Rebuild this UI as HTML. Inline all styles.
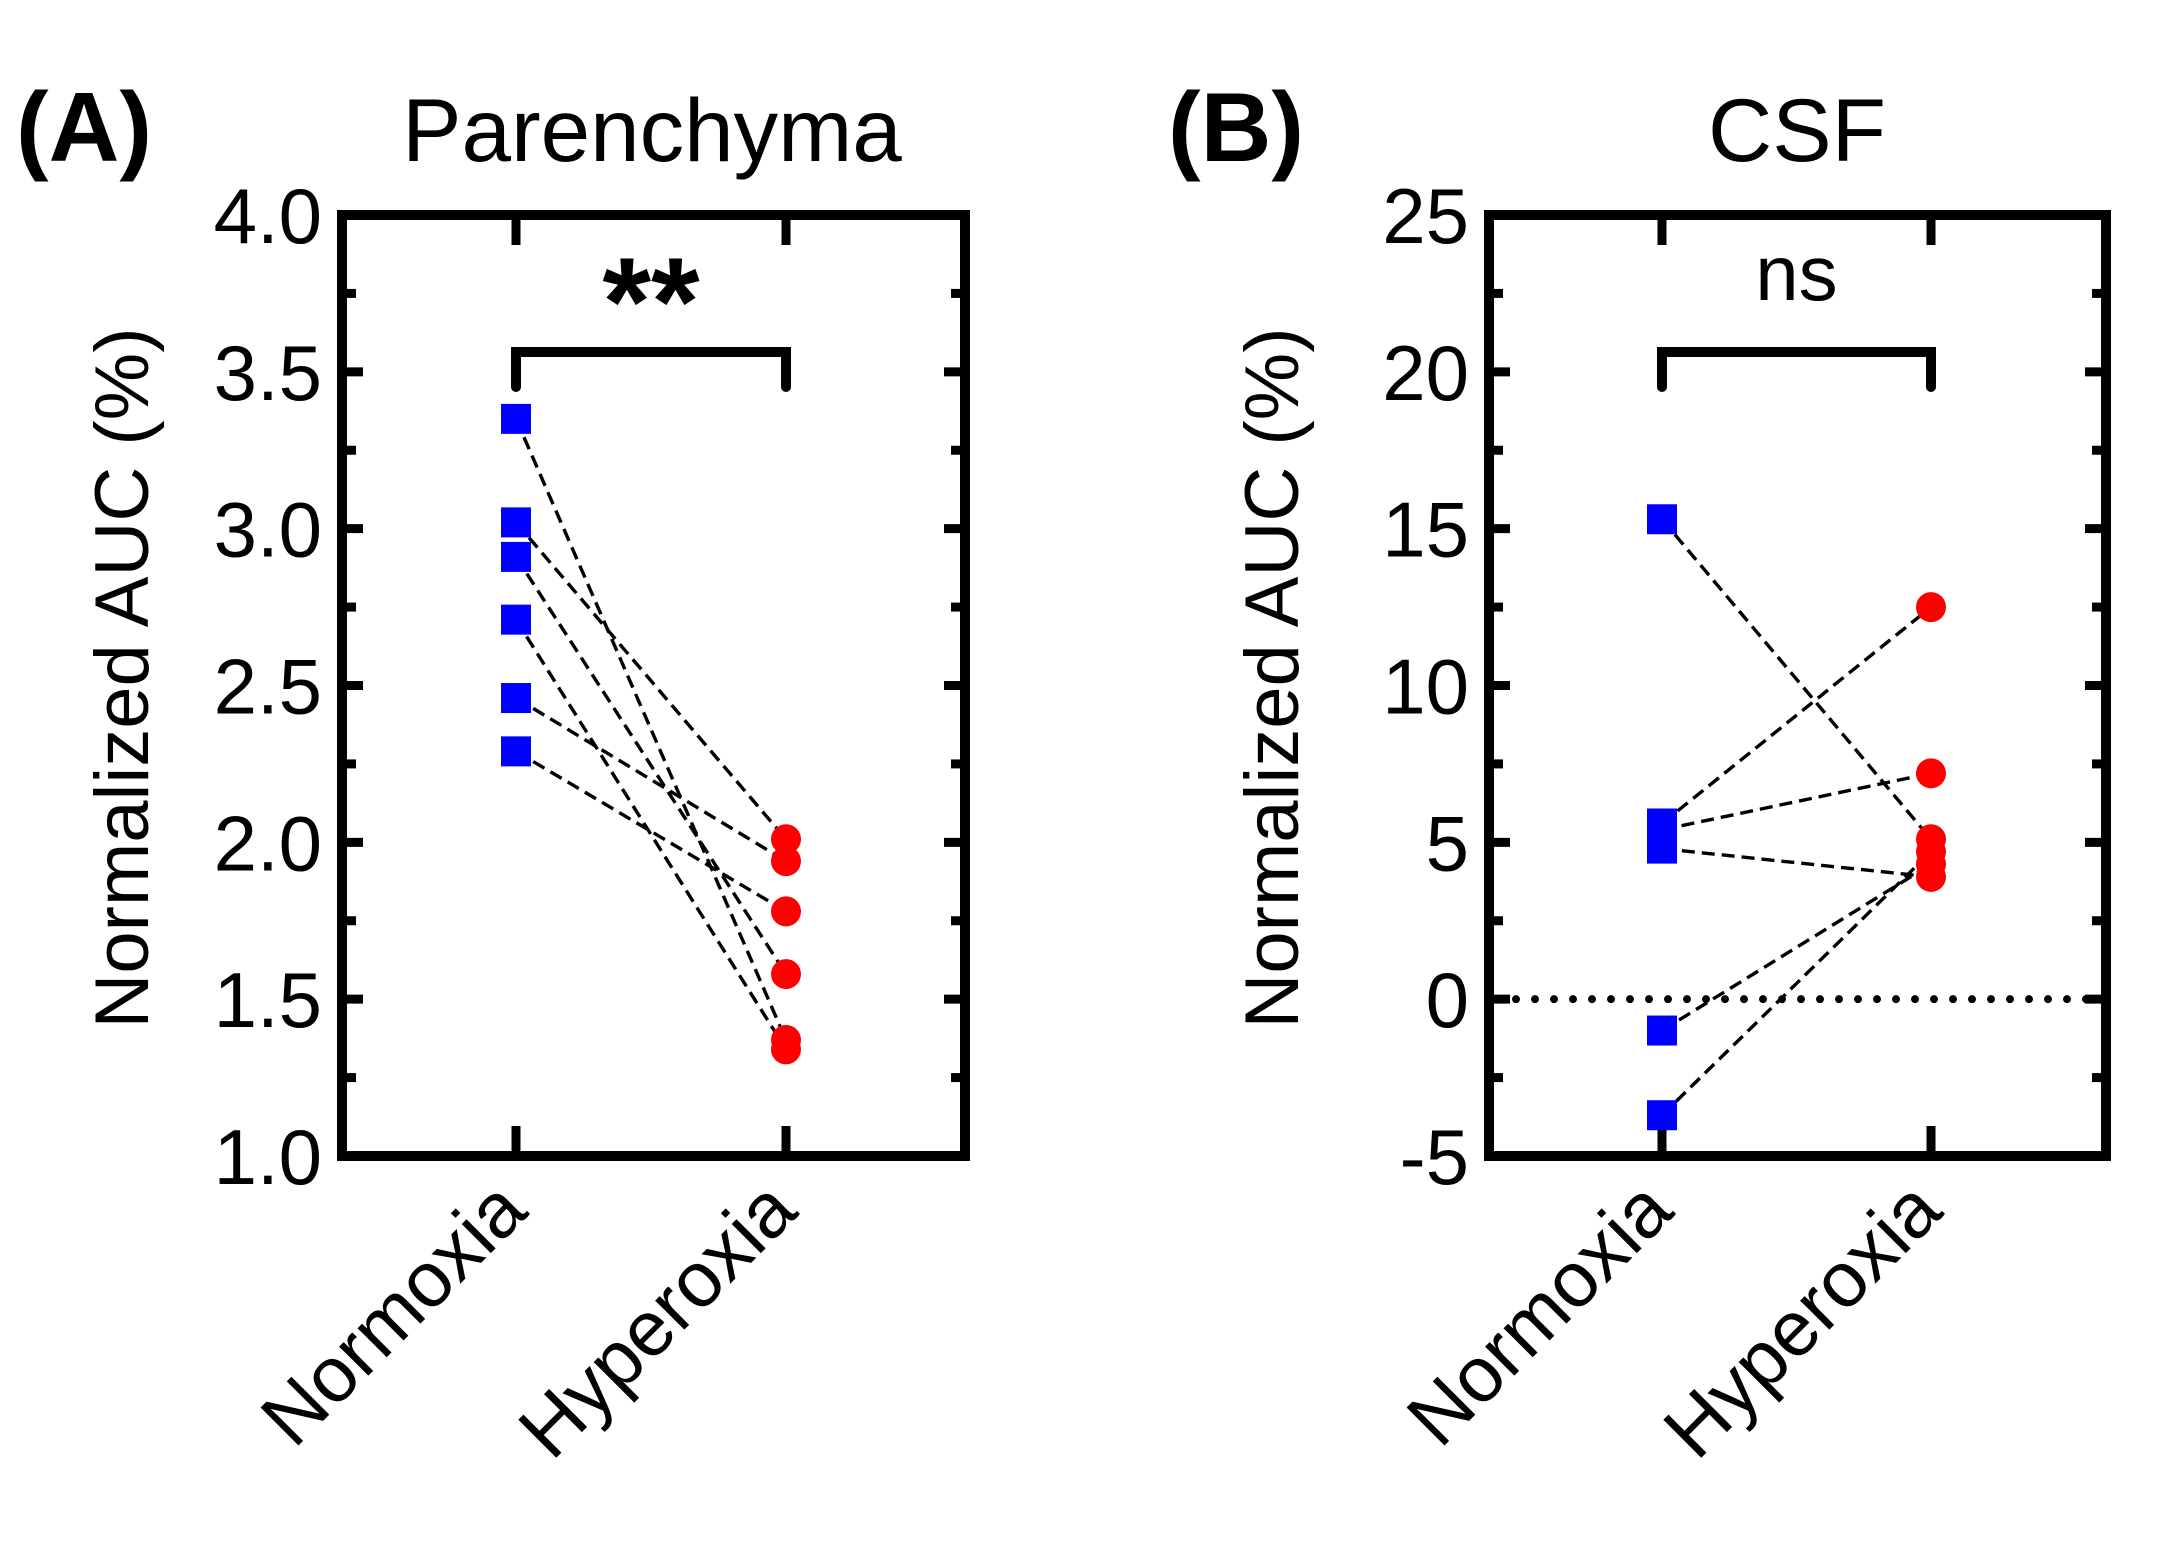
<!DOCTYPE html>
<html><head><meta charset="utf-8"><style>
html,body{margin:0;padding:0;background:#fff;}
svg{display:block;font-family:"Liberation Sans",Arial,sans-serif;}
</style></head><body>
<svg id="fig" width="2163" height="1546" viewBox="0 0 2163 1546">
<g id="pa"></g>
<g id="pb"></g>
</svg>
<script>
const categories = ["Normoxia", "Hyperoxia"];
const aNormoxia = [3.35, 3.02, 2.91, 2.71, 2.46, 2.29];
const aHyperoxia = [1.37, 2.01, 1.58, 1.34, 1.94, 1.78];
const aTicks = ["1.0","1.5","2.0","2.5","3.0","3.5","4.0"];
const bNormoxia = [15.3, 5.6, 5.4, 4.8, -1.0, -3.7];
const bHyperoxia = [5.1, 12.5, 7.2, 3.9, 4.3, 4.7];
const bTicks = ["-5","0","5","10","15","20","25"];
const NS = "http://www.w3.org/2000/svg";
function mk(parent, tag, attrs, text){
  const e = document.createElementNS(NS, tag);
  for (const k in attrs) e.setAttribute(k, attrs[k]);
  if (text !== undefined) e.textContent = text;
  parent.appendChild(e);
  return e;
}
function panel(g, cfg){
  const L=cfg.left, R=cfg.right, T=215, B=1156;
  const y = v => B - (v - cfg.min)/(cfg.max - cfg.min)*(B-T);
  const xs = [cfg.x0, cfg.x1];
  if (cfg.zero){
    const z = mk(g,'line',{x1:L+8,x2:R-8,y1:y(0),y2:y(0),stroke:'#000','stroke-width':8,'stroke-dasharray':'0 19','stroke-linecap':'round'});
    
    
  }
  const nMinor = Math.round((cfg.max-cfg.min)/cfg.minorStep);
  for (let i=0;i<=nMinor;i++){
    const v = cfg.min + i*cfg.minorStep;
    const major = i % 2 === 0;
    const len = major ? 16 : 9;
    const t1 = mk(g,'line',{x1:L,x2:L+len+5,y1:y(v),y2:y(v),stroke:'#000','stroke-width':9});
    
    
    const t2 = mk(g,'line',{x1:R,x2:R-len-5,y1:y(v),y2:y(v),stroke:'#000','stroke-width':9});
    
    
  }
  cfg.ticks.forEach(lbl=>{
    const v = parseFloat(lbl);
    const t = mk(g,'text',{x:L-20,y:y(v)+28,'font-size':78,'text-anchor':'end'},lbl);
    
    
  });
  xs.forEach((x,i)=>{
    const a = mk(g,'line',{x1:x,x2:x,y1:T,y2:T+30,stroke:'#000','stroke-width':9});
    
    
    const b = mk(g,'line',{x1:x,x2:x,y1:B,y2:B-30,stroke:'#000','stroke-width':9});
    
    
    const c = mk(g,'text',{x:x+14,y:1214,'font-size':78,'text-anchor':'end',transform:`rotate(-45 ${x+14} 1214)`},categories[i]);
    
    
  });
  const f = mk(g,'rect',{x:L,y:T,width:R-L,height:B-T,fill:'none',stroke:'#000','stroke-width':10});
  
  
  cfg.n.forEach((v,i)=>{
    const l = mk(g,'line',{x1:xs[0],y1:y(v),x2:xs[1],y2:y(cfg.h[i]),stroke:'#000','stroke-width':3.4,'stroke-dasharray':'13 7'});
    
    
  });
  cfg.n.forEach(v=>{
    const s = mk(g,'rect',{x:xs[0]-15,y:y(v)-15,width:30,height:30,fill:'#0000ff'});
    
    
  });
  cfg.h.forEach(v=>{
    const c = mk(g,'circle',{cx:xs[1],cy:y(v),r:15,fill:'#ff0000'});
    
    
  });
  const br = mk(g,'path',{d:`M${xs[0]} 387 V352 H${xs[1]} V387`,fill:'none',stroke:'#000','stroke-width':10,'stroke-linecap':'round'});
  
  
  const sig = cfg.sig === '**'
    ? mk(g,'text',{x:(xs[0]+xs[1])/2,y:345,'font-size':125,'font-weight':'bold','text-anchor':'middle'},'**')
    : mk(g,'text',{x:(xs[0]+xs[1])/2,y:300,'font-size':78,'text-anchor':'middle'},'ns');
  
  
  const ti = mk(g,'text',{x:cfg.titleX,y:161,'font-size':89,'text-anchor':'middle'},cfg.title);
  
  
  const pl = mk(g,'text',{x:cfg.labelX,y:161,'font-size':98,'font-weight':'bold'},cfg.label);
  
  
  const yt = mk(g,'text',{x:0,y:0,'font-size':76,'text-anchor':'middle',transform:`translate(${cfg.ytX} 678) rotate(-90)`},'Normalized AUC (%)');
  
  
}
panel(document.getElementById('pa'),{left:342,right:965,min:1,max:4,minorStep:0.25,ticks:aTicks,x0:516,x1:786,n:aNormoxia,h:aHyperoxia,sig:'**',title:'Parenchyma',titleX:652,label:'(A)',labelX:16,ytX:148,zero:false});
panel(document.getElementById('pb'),{left:1489,right:2106,min:-5,max:25,minorStep:2.5,ticks:bTicks,x0:1662,x1:1931,n:bNormoxia,h:bHyperoxia,sig:'ns',title:'CSF',titleX:1797,label:'(B)',labelX:1168,ytX:1298,zero:true});
</script>
</body></html>
